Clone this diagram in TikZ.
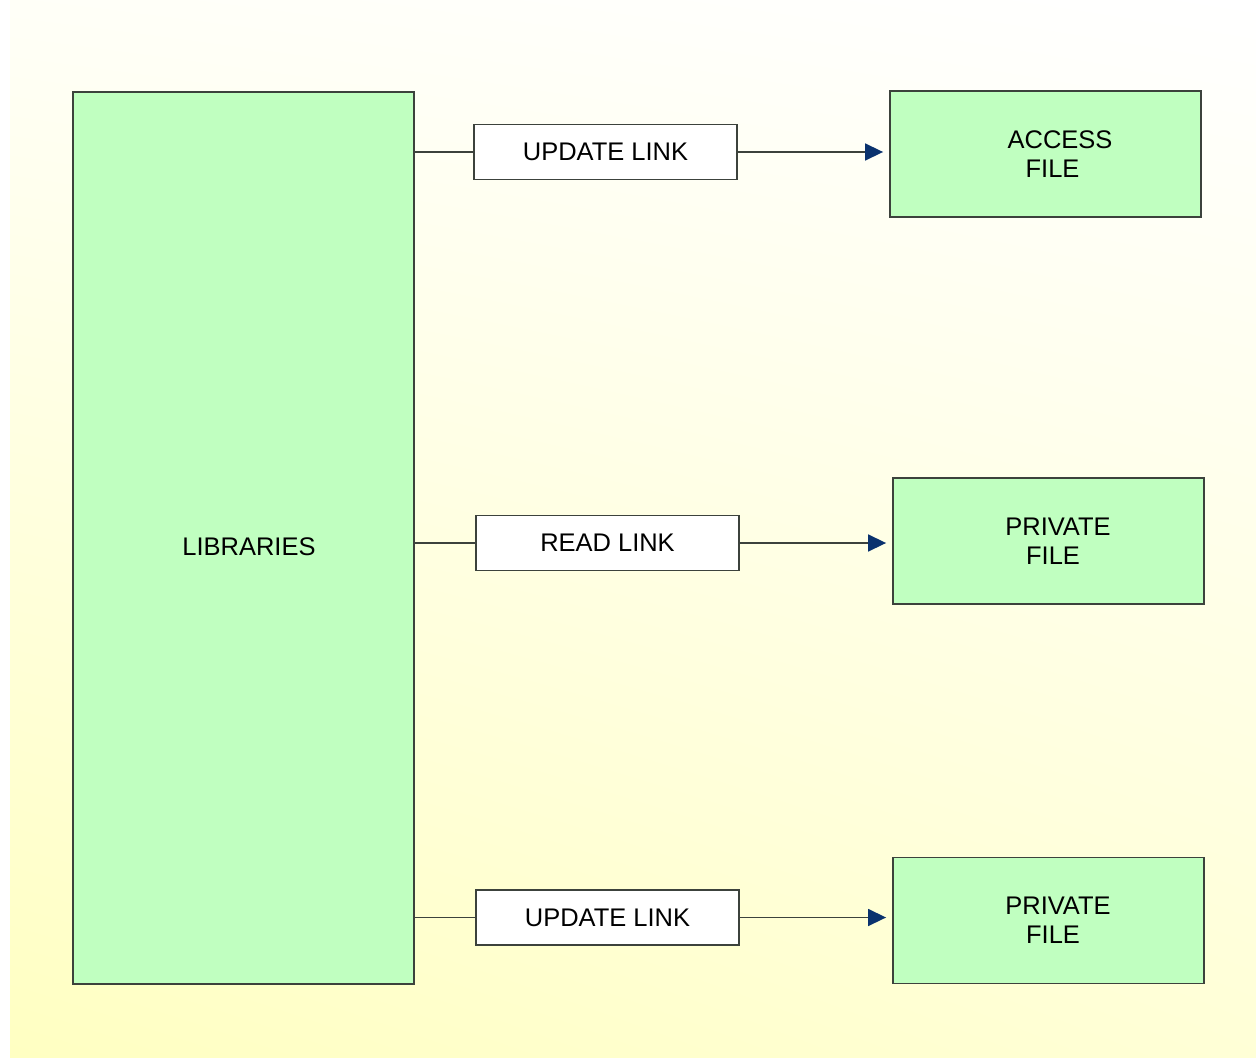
\documentclass[tikz,border=0pt]{standalone}
\usepackage{fontspec}
\setmainfont{Liberation Sans}
\usetikzlibrary{arrows.meta,calc,shadings}
\definecolor{boxgreen}{RGB}{192,255,192}
\definecolor{edgegray}{RGB}{60,66,60}
\definecolor{tipblue}{RGB}{10,50,110}
\tikzset{
	block/.style  = {shape=rectangle, draw=edgegray, line width=1.1pt,
		fill=boxgreen, anchor=center, align=center,
		font=\fontsize{14.5}{16.5}\selectfont, inner sep=0pt},
	libbox/.style = {block, minimum width=6.82cm, minimum height=17.84cm},
	filebox/.style= {block, minimum width=6.22cm, minimum height=2.52cm},
	linkbox/.style= {block, fill=white, minimum width=5.26cm, minimum height=1.1cm},
	wire/.style   = {draw=edgegray, line width=1.1pt},
	feed/.style   = {wire, line width=0.9pt, -{Triangle[length=0.36cm,width=0.34cm,color=tipblue]}, shorten >=0.12cm}
}
\begin{document}
\begin{tikzpicture}[x=0.02cm, y=-0.02cm]
	\useasboundingbox (0,0) rectangle (1256,1057);
	\fill[white] (0,0) rectangle (1256,1057);
	\shade[upper left=yellow!3, upper right=white, lower left=yellow!24, lower right=yellow!16] (10,0) rectangle (1256,1057);
	\node [libbox] at (243.5,538) (libs) {\raisebox{-0.18cm}[\height][\depth]{\hspace*{0.22cm}LIBRARIES}};
	\node [linkbox] at (605.5,152) (updA) {UPDATE LINK};
	\node [linkbox] at (607.5,543) (readB) {READ LINK};
	\node [linkbox] at (607.5,917.5) (updC) {UPDATE LINK};
	\node [filebox] at (1045.5,154) (access) {\hspace*{0.58cm}ACCESS\\\hspace*{0.28cm}FILE};
	\node [filebox] at (1048.5,541) (privB) {\hspace*{0.38cm}PRIVATE\\\hspace*{0.18cm}FILE};
	\node [filebox] at (1048.5,920.5) (privC) {\hspace*{0.38cm}PRIVATE\\\hspace*{0.18cm}FILE};
	\draw [wire] (updA.west -| libs.east) -- (updA.west);
	\draw [wire] (readB.west -| libs.east) -- (readB.west);
	\draw [wire] (updC.west -| libs.east) -- (updC.west);
	\draw [feed] (updA.east) -- (updA.east -| access.west);
	\draw [feed] (readB.east) -- (readB.east -| privB.west);
	\draw [feed] (updC.east) -- (updC.east -| privC.west);
\end{tikzpicture}
\end{document}
